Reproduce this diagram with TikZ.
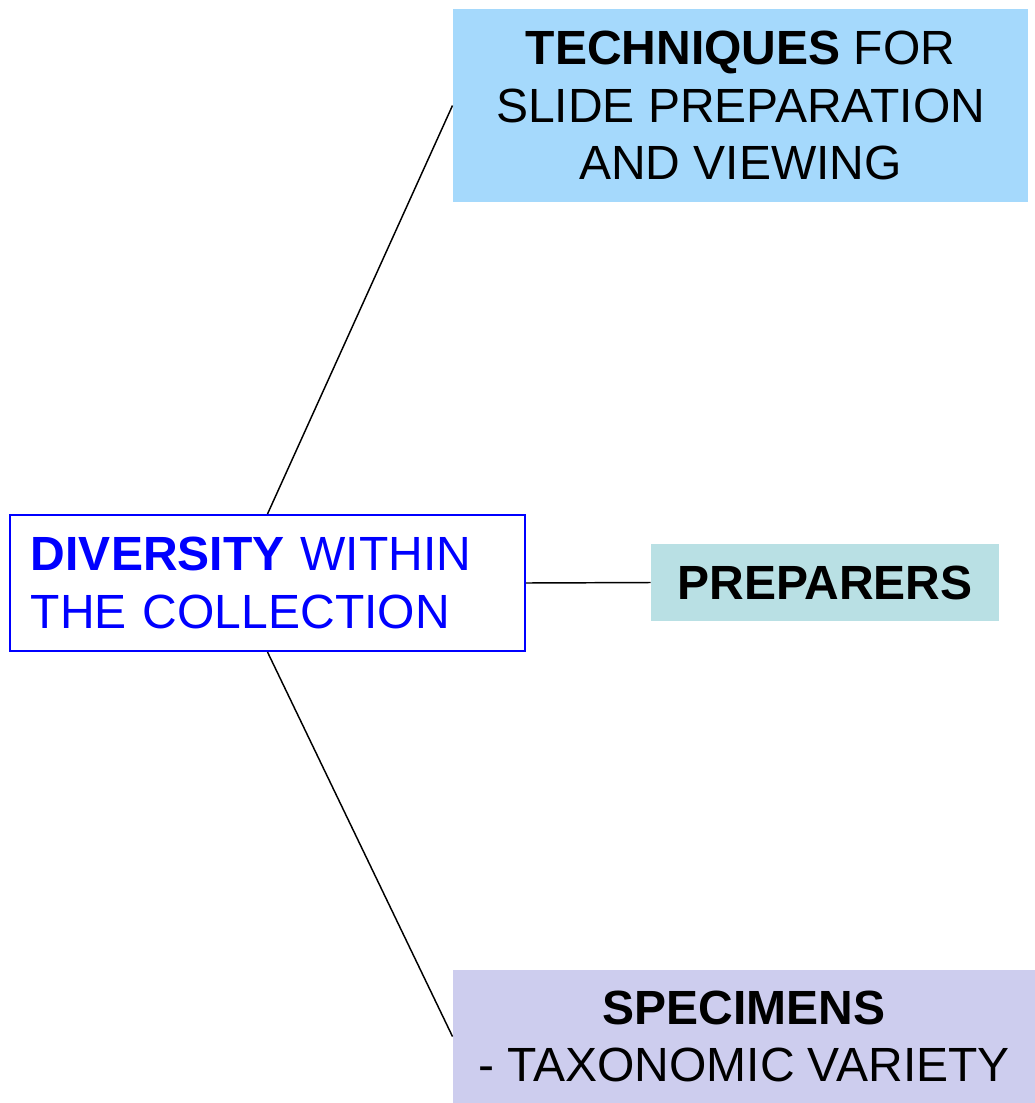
\documentclass[tikz,border=0pt]{standalone}
\usepackage{fontspec}
\setmainfont{Liberation Sans}
\definecolor{techblue}{RGB}{165,217,252}
\definecolor{prepteal}{RGB}{185,224,228}
\definecolor{specviolet}{RGB}{205,205,238}
\tikzset{every picture/.style={line width=0.75pt}}
\tikzset{
  topicbox/.style={rectangle, inner sep=0pt, align=center, text=black,
    font=\fontsize{36}{43}\selectfont},
  link/.style={draw=black, line width=1.1pt}
}

\begin{document}
\begin{tikzpicture}[x=0.75pt,y=0.75pt,yscale=-1,xscale=1]
        \useasboundingbox (0,0) rectangle (1035,1103);
        % Shape: Rectangle (centre)
        \node [rectangle, draw={rgb, 255:red, 0; green, 0; blue, 255}, line width=1.5pt, fill=white,
               text={rgb, 255:red, 0; green, 0; blue, 255}, inner xsep=15.75pt, inner ysep=0pt,
               text width=354.75pt, minimum height=102pt, align=left,
               font=\fontsize{36}{44}\selectfont] (diversity) at (267.5,583)
               {\textbf{DIVERSITY} WITHIN\\THE COLLECTION};
        % Shape: Rectangle (top)
        \node [topicbox, fill=techblue, minimum width=431.25pt, minimum height=144.75pt] (techniques) at (740.5,105.5)
               {\textbf{TECHNIQUES} FOR\\SLIDE PREPARATION\\AND VIEWING};
        % Shape: Rectangle (middle)
        \node [topicbox, fill=prepteal, minimum width=261pt, minimum height=57.75pt] (preparers) at (825,582.5)
               {\textbf{PREPARERS}};
        % Shape: Rectangle (bottom)
        \node [topicbox, fill=specviolet, minimum width=436.5pt, minimum height=99.75pt] (specimens) at (744,1036.5)
               {\textbf{SPECIMENS}\\- TAXONOMIC VARIETY};

        %Straight Lines
        \draw [link] (diversity.north) -- (techniques.west) ;
        \draw [link] (diversity.east) -- (preparers.west) ;
        \draw [link] (diversity.south) -- (specimens.west) ;
\end{tikzpicture}
\end{document}
